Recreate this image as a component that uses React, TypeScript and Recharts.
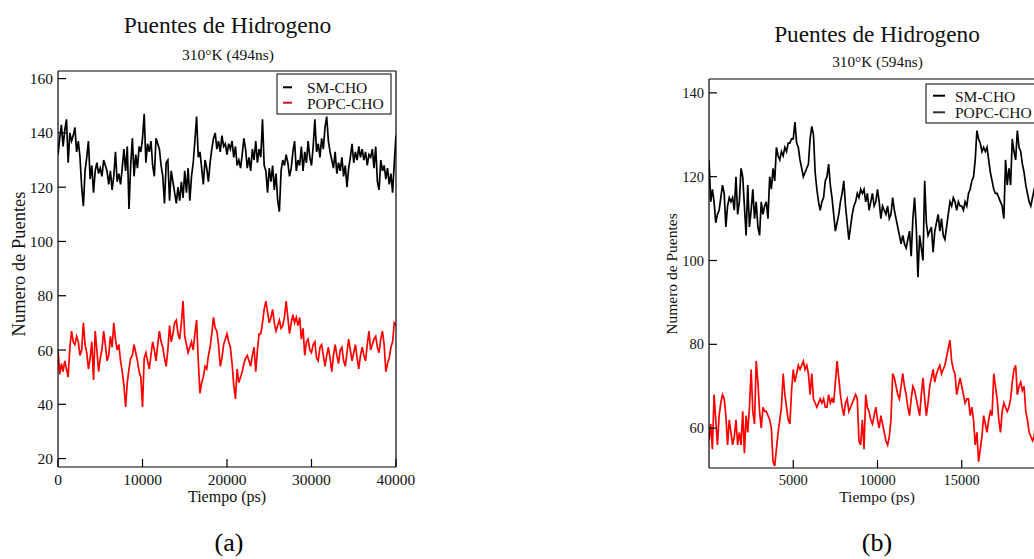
import React from 'react';
import { LineChart, Line, XAxis, YAxis } from 'recharts';

// (a) 310°K (494ns), one sample every 200 ps
const STEP_A = 200;
const smChoA = [
  132, 138, 143, 135, 141, 145, 129, 140, 137, 139,
  142, 133, 137, 131, 120, 113, 126, 131, 137, 123,
  128, 118, 126, 129, 125, 127, 124, 130, 128, 126,
  121, 126, 119, 124, 133, 122, 125, 121, 127, 134,
  126, 135, 112, 128, 138, 124, 132, 127, 135, 133,
  138, 147, 129, 136, 133, 137, 128, 124, 138, 136,
  134, 128, 124, 114, 129, 130, 115, 126, 122, 118,
  114, 120, 115, 122, 116, 126, 118, 127, 115, 124,
  129, 137, 146, 131, 133, 127, 121, 130, 127, 122,
  129, 134, 138, 140, 134, 137, 133, 139, 135, 136,
  132, 136, 134, 137, 131, 135, 128, 130, 127, 132,
  138, 134, 127, 131, 126, 134, 130, 137, 129, 134,
  131, 145, 128, 126, 118, 127, 122, 128, 119, 125,
  115, 111, 126, 130, 128, 132, 129, 124, 127, 133,
  137, 126, 130, 128, 135, 126, 133, 129, 137, 131,
  128, 135, 145, 133, 136, 131, 138, 134, 142, 146,
  137, 133, 130, 127, 133, 125, 129, 126, 131, 124,
  128, 120, 127, 131, 136, 129, 133, 130, 135, 131,
  134, 130, 133, 128, 132, 131, 134, 127, 135, 122,
  119, 130, 126, 128, 123, 127, 121, 125, 118, 129,
  139,
];
const popcChoA = [
  60, 51, 55, 52, 56, 53, 50, 61, 67, 63,
  62, 65, 63, 58, 60, 70, 62, 59, 53, 57,
  63, 49, 67, 60, 52, 57, 60, 67, 62, 56,
  58, 65, 61, 70, 64, 60, 62, 56, 52, 47,
  39, 48, 53, 57, 58, 62, 59, 56, 52, 50,
  39, 57, 59, 56, 53, 58, 63, 60, 56, 62,
  67, 63, 61, 57, 54, 60, 69, 63, 66, 70,
  71, 66, 64, 70, 78, 65, 62, 59, 61, 63,
  60, 66, 71, 56, 44, 48, 50, 54, 53, 58,
  61, 66, 72, 68, 67, 62, 54, 57, 62, 64,
  66, 63, 61, 55, 47, 42, 53, 48, 50, 52,
  55, 57, 58, 56, 54, 58, 61, 52, 60, 66,
  66, 70, 75, 78, 74, 70, 72, 75, 70, 67,
  69, 71, 68, 69, 72, 78, 72, 66, 70, 73,
  70, 72, 69, 72, 64, 68, 58, 63, 64, 60,
  59, 62, 63, 57, 56, 61, 62, 58, 54, 58,
  61, 57, 52, 58, 62, 58, 55, 60, 61, 56,
  54, 59, 64, 60, 56, 59, 62, 57, 53, 58,
  61, 58, 56, 62, 67, 60, 62, 64, 65, 61,
  59, 64, 67, 62, 52, 55, 57, 61, 63, 70,
  69,
];

// (b) 310°K (594ns), one sample every 100 ps
const STEP_B = 100;
const smChoB = [
  124, 114, 117, 114, 109, 111, 112, 115, 118, 116,
  108, 113, 115, 114, 115, 112, 120, 111, 114, 122,
  120, 113, 106, 118, 108, 112, 117, 110, 114, 108,
  106, 114, 111, 113, 114, 110, 120, 117, 122, 119,
  127, 125, 124, 126, 125, 127, 126, 128, 128, 129,
  129, 133, 128, 127, 124, 122, 120, 121, 122, 123,
  129, 132, 130, 121, 117, 114, 112, 114, 115, 119,
  120, 123, 118, 115, 111, 107, 109, 111, 114, 116,
  119, 113, 109, 105, 108, 111, 113, 114, 116, 115,
  117, 116, 117, 114, 116, 112, 114, 116, 113, 114,
  117, 114, 110, 113, 112, 111, 113, 110, 111, 115,
  112, 110, 108, 106, 104, 106, 104, 103, 105, 107,
  101, 110, 115, 108, 96, 106, 103, 100, 119, 109,
  106, 107, 108, 102, 107, 109, 111, 107, 110, 106,
  105, 108, 111, 114, 113, 115, 114, 112, 114, 113,
  113, 112, 114, 113, 116, 117, 119, 120, 124, 131,
  129, 128, 126, 127, 126, 127, 124, 121, 119, 117,
  116, 116, 115, 114, 113, 110, 124, 118, 122, 118,
  129, 126, 124, 131, 127, 126, 123, 121, 118, 116,
  114, 113, 115, 117, 118, 116, 114, 115, 117, 116,
  118,
];
const popcChoB = [
  57, 61, 55, 68, 62, 56, 63, 66, 68, 67,
  63, 56, 62, 59, 56, 58, 62, 56, 59, 56,
  64, 54, 63, 59, 65, 74, 64, 61, 76, 71,
  64, 60, 65, 64, 64, 63, 62, 60, 52, 51,
  55, 59, 62, 65, 73, 68, 65, 62, 61, 69,
  74, 71, 73, 75, 74, 75, 76, 74, 75, 73,
  68, 73, 67, 66, 65, 66, 67, 66, 67, 65,
  65, 68, 66, 67, 66, 71, 76, 72, 68, 65,
  63, 66, 67, 64, 65, 66, 67, 68, 67, 57,
  56, 62, 55, 68, 65, 64, 62, 61, 63, 65,
  62, 60, 63, 61, 59, 57, 56, 58, 62, 73,
  72, 70, 68, 67, 70, 73, 70, 68, 65, 63,
  67, 70, 69, 67, 65, 63, 68, 72, 67, 63,
  66, 70, 72, 74, 71, 73, 74, 75, 73, 74,
  75, 77, 79, 81, 76, 74, 73, 68, 70, 72,
  70, 68, 66, 67, 67, 63, 65, 62, 56, 59,
  52, 55, 58, 63, 61, 59, 62, 64, 63, 73,
  70, 67, 62, 59, 64, 66, 65, 64, 65, 67,
  71, 74, 75, 68, 70, 71, 69, 70, 64, 62,
  59, 58, 57, 58, 63, 66, 68, 64, 62, 60,
  61,
];

const ticksAX = [0, 10000, 20000, 30000, 40000];
const minorAX = [5000, 15000, 25000, 35000];
const ticksAY = [20, 40, 60, 80, 100, 120, 140, 160];
const minorAY = [30, 50, 70, 90, 110, 130, 150];
const ticksBX = [5000, 10000, 15000];
const minorBX = [2500, 7500, 12500, 17500];
const ticksBY = [60, 80, 100, 120, 140];
const minorBY = [70, 90, 110, 130];

const dataA = smChoA.map((sm, i) => ({ t: i * STEP_A, sm, popc: popcChoA[i] }));
const dataB = smChoB.map((sm, i) => ({ t: i * STEP_B, sm, popc: popcChoB[i] }));

const SERIF = '"Liberation Serif", "Times New Roman", Times, serif';
// axes need a non-zero size to be drawn; keep it tiny so they do not stack visibly
const THIN = 0.01;

interface PanelProps {
  data: { t: number; sm: number; popc: number }[];
  left: number;
  width: number;
  margin: { top: number; right: number; bottom: number; left: number };
  xDomain: [number, number];
  yDomain: [number, number];
  xTicks: number[];
  xMinor: number[];
  yTicks: number[];
  yMinor: number[];
  tickFont: number;
}

const Panel = ({ data, left, width, margin, xDomain, yDomain, xTicks, xMinor, yTicks, yMinor, tickFont }: PanelProps) => {
  const tick = { fill: '#111', fontSize: tickFont, fontFamily: SERIF };
  const common = { type: 'number' as const, allowDataOverflow: true, interval: 0 as const, stroke: '#000', strokeWidth: 1.2 };
  return (
    <div style={{ position: 'absolute', left, top: 0 }}>
      <LineChart width={width} height={559} data={data} margin={margin}>
        <XAxis xAxisId="b" dataKey="t" {...common} domain={xDomain} ticks={xTicks} height={THIN} tickSize={-8} tickMargin={15} tick={tick} />
        <XAxis xAxisId="bm" {...common} domain={xDomain} ticks={xMinor} height={THIN} tickSize={-4} tick={false} axisLine={false} />
        <XAxis xAxisId="t" orientation="top" {...common} domain={xDomain} ticks={xTicks} height={THIN} tickSize={-8} tick={false} />
        <XAxis xAxisId="tm" orientation="top" {...common} domain={xDomain} ticks={xMinor} height={THIN} tickSize={-4} tick={false} axisLine={false} />
        <YAxis yAxisId="l" {...common} domain={yDomain} ticks={yTicks} width={THIN} tickSize={-8} tickMargin={13} tick={tick} />
        <YAxis yAxisId="lm" {...common} domain={yDomain} ticks={yMinor} width={THIN} tickSize={-4} tick={false} axisLine={false} />
        <YAxis yAxisId="r" orientation="right" {...common} domain={yDomain} ticks={yTicks} width={THIN} tickSize={-8} tick={false} />
        <YAxis yAxisId="rm" orientation="right" {...common} domain={yDomain} ticks={yMinor} width={THIN} tickSize={-4} tick={false} axisLine={false} />
        <Line xAxisId="b" yAxisId="l" type="linear" dataKey="sm" stroke="#000" strokeWidth={1.7} dot={false} isAnimationActive={false} />
        <Line xAxisId="b" yAxisId="l" type="linear" dataKey="popc" stroke="#ff0000" strokeWidth={1.7} dot={false} isAnimationActive={false} />
      </LineChart>
    </div>
  );
};

const App = () => (
  <div style={{ position: 'fixed', left: 0, top: 0, width: 1034, height: 559, overflow: 'hidden', background: '#fff' }}>
    <Panel
      data={dataA} left={0} width={420}
      margin={{ top: 71, right: 24, bottom: 92, left: 58 }}
      xDomain={[0, 40000]} yDomain={[16.9, 162.8]}
      xTicks={ticksAX} xMinor={minorAX} yTicks={ticksAY} yMinor={minorAY} tickFont={15.5}
    />
    <Panel
      data={dataB} left={600} width={480}
      margin={{ top: 79, right: 34, bottom: 91, left: 109 }}
      xDomain={[0, 20000]} yDomain={[50.5, 143.3]}
      xTicks={ticksBX} xMinor={minorBX} yTicks={ticksBY} yMinor={minorBY} tickFont={14.5}
    />
    <svg width={1034} height={559} style={{ position: 'absolute', left: 0, top: 0, pointerEvents: 'none' }} fontFamily={SERIF} fill="#111">
      {/* panel (a) */}
      <text x={227.5} y={33.3} fontSize={23.5} textAnchor="middle">Puentes de Hidrogeno</text>
      <text x={228} y={59.5} fontSize={15.5} textAnchor="middle">310°K (494ns)</text>
      <text x={227} y={501.5} fontSize={16} textAnchor="middle">Tiempo (ps)</text>
      <text transform="translate(25,264) rotate(-90)" fontSize={18.5} textAnchor="middle">Numero de Puentes</text>
      <rect x={277} y={74} width={114} height={40} fill="#fff" stroke="#000" strokeWidth={1} />
      <line x1={283} x2={292} y1={87.3} y2={87.3} stroke="#000" strokeWidth={2} />
      <text x={307} y={93.3} fontSize={15.5}>SM-CHO</text>
      <line x1={283} x2={292} y1={102.7} y2={102.7} stroke="#c4162a" strokeWidth={2} />
      <text x={307} y={109} fontSize={15.5}>POPC-CHO</text>
      <text x={229} y={551} fontSize={26} textAnchor="middle" fill="#000">(a)</text>

      {/* panel (b) */}
      <text x={877} y={41.7} fontSize={23.3} textAnchor="middle">Puentes de Hidrogeno</text>
      <text x={877.5} y={66.7} fontSize={15.3} textAnchor="middle">310°K (594ns)</text>
      <text x={877} y={501.7} fontSize={15.5} textAnchor="middle">Tiempo (ps)</text>
      <text transform="translate(676.7,274) rotate(-90)" fontSize={15.5} textAnchor="middle">Numero de Puentes</text>
      <rect x={926} y={84} width={116} height={39} fill="#fff" stroke="#000" strokeWidth={1} />
      <line x1={933} x2={945} y1={95.7} y2={95.7} stroke="#000" strokeWidth={2} />
      <text x={955} y={101.7} fontSize={15.5}>SM-CHO</text>
      <line x1={933} x2={945} y1={112.3} y2={112.3} stroke="#333" strokeWidth={2} />
      <text x={955} y={118.3} fontSize={15.5}>POPC-CHO</text>
      <text x={877} y={551} fontSize={26} textAnchor="middle" fill="#000">(b)</text>
    </svg>
  </div>
);

export default App;
